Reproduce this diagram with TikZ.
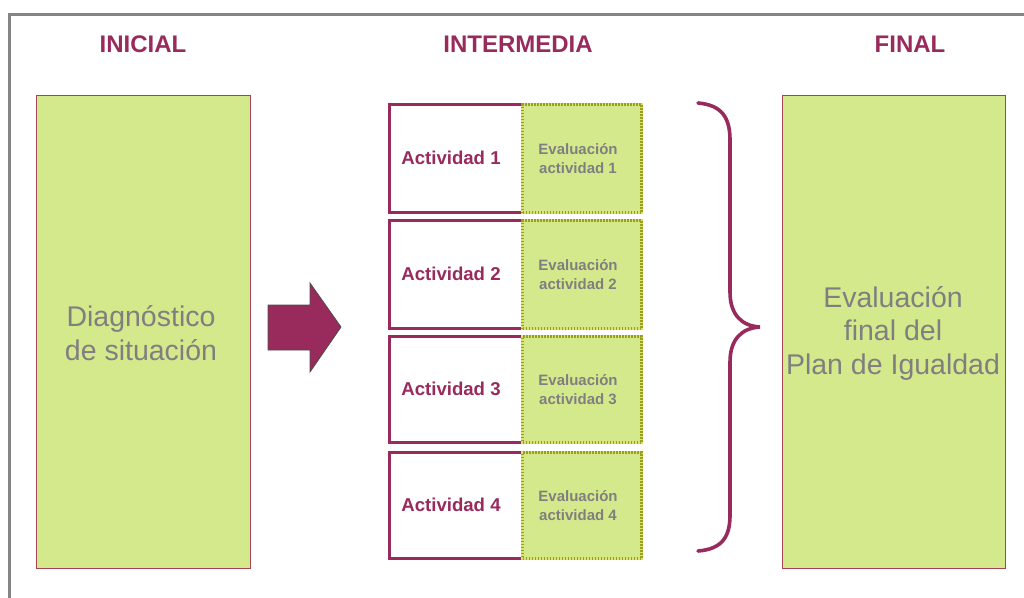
\documentclass[tikz,border=0pt]{standalone}
\usepackage{fontspec}
\setmainfont{Liberation Sans}
\definecolor{plum}{HTML}{982A5C}
\definecolor{leaf}{HTML}{D4E98C}
\definecolor{olive}{HTML}{97A11E}
\definecolor{olivelight}{HTML}{DCE46C}
\definecolor{txtgray}{HTML}{7F7F7F}
\definecolor{framegray}{HTML}{858585}
\begin{document}
\begin{tikzpicture}[x=1pt,y=-1pt,
  header/.style={font=\fontsize{24}{27}\selectfont\bfseries, text=plum, inner sep=0},
  bigbox/.style={draw=plum!70!brown, line width=0.9pt, fill=leaf, anchor=north west, inner sep=0},
  bigtext/.style={font=\fontsize{28.5}{33.5}\selectfont, text=txtgray, align=center, inner sep=0},
  actbox/.style={draw=plum, line width=2.8pt, fill=white, anchor=north west, inner sep=0, minimum width=252pt},
  evalbox/.style={draw=olivelight, line width=3pt, fill=leaf, anchor=north west, inner sep=0, minimum width=119pt,
    postaction={draw=olive, line width=3pt, dash pattern=on 1.6pt off 1.4pt}},
  acttext/.style={font=\fontsize{18.6}{21}\selectfont\bfseries, text=plum, inner sep=0},
  evaltext/.style={font=\fontsize{15}{19}\selectfont\bfseries, text=txtgray, align=center, inner sep=0},
  bracestyle/.style={draw=plum, line width=3.6pt, line cap=round}
]
\useasboundingbox (0,0) rectangle (1024,597);
% frame
\draw[framegray, line width=3pt] (1030,14) -- (9,14) -- (9,605);
% headers
\node[header] (hI) at (143,44) {INICIAL};
\node[header] (hM) at (518,44) {INTERMEDIA};
\node[header] (hF) at (910,44) {FINAL};
% big boxes
\node[bigbox, minimum width=214pt, minimum height=473pt] (left) at (36,95) {};
\node[bigtext] (lt) at (141,333) {Diagnóstico\\de situación};
\node[bigbox, minimum width=223pt, minimum height=473pt] (right) at (782,95) {};
\node[bigtext] (rt) at (893,333) {Evaluación\\final del\\Plan de Igualdad};
% arrow
\draw[draw=black!70, line width=0.8pt, fill=plum] (268,305) -- (310,305) -- (310,283) -- (341,327) -- (310,372) -- (310,350) -- (268,350) -- cycle;
% activity rows
\foreach \i/\y/\h in {1/103/108, 2/219/108, 3/335/106, 4/451/106}{
  \node[actbox, minimum height=\h pt] (act\i) at (388,\y) {};
  \node[evalbox, minimum height=\h pt] (ev\i) at (521,\y) {};
  \node[acttext] (at\i) at (451,{\y+\h/2+1}) {Actividad \i};
  \node[evaltext] (et\i) at (578,{\y+\h/2+2}) {Evaluación\\actividad \i};
}
% brace
\draw[bracestyle] (698,103) .. controls (722,105) and (730,118) .. (730,140)
  -- (730,292) .. controls (730,315) and (742,326) .. (760,327)
  .. controls (742,328) and (730,339) .. (730,362)
  -- (730,515) .. controls (730,537) and (722,549) .. (698,551);
\end{tikzpicture}
\end{document}
